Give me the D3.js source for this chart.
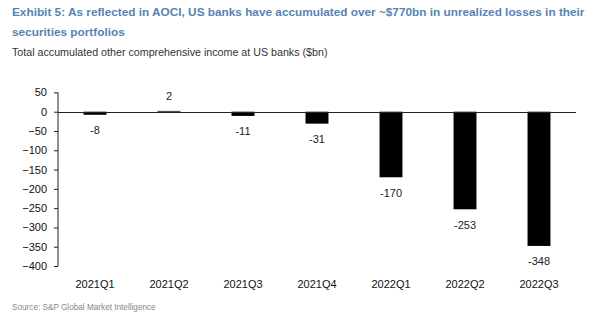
<!DOCTYPE html>
<html>
<head>
<meta charset="utf-8">
<script src="https://cdn.jsdelivr.net/npm/d3@7"></script>
<style>
  html, body { margin: 0; padding: 0; background: #fff; }
  svg { display: block; font-family: "Liberation Sans", Arial, sans-serif; }
</style>
</head>
<body>
<svg id="chart" width="600" height="321"></svg>
<script>
const categories = ["2021Q1", "2021Q2", "2021Q3", "2021Q4", "2022Q1", "2022Q2", "2022Q3"];
const values = [-8, 2, -11, -31, -170, -253, -348];
const yTicks = [50, 0, -50, -100, -150, -200, -250, -300, -350, -400];

const titleLines = [
  "Exhibit 5: As reflected in AOCI, US banks have accumulated over ~$770bn in unrealized losses in their",
  "securities portfolios"
];
const subtitle = "Total accumulated other comprehensive income at US banks ($bn)";
const source = "Source: S&P Global Market Intelligence";

const svg = d3.select("#chart");

// Titles
svg.selectAll("text.title").data(titleLines).join("text")
  .attr("class", "title")
  .attr("x", 12)
  .attr("y", (d, i) => 16 + i * 19.5)
  .attr("fill", "#5683b3")
  .attr("font-weight", "bold")
  .attr("font-size", 11.8)
  .text(d => d);

svg.append("text")
  .attr("x", 12).attr("y", 56)
  .attr("fill", "#333")
  .attr("font-size", 10.7)
  .text(subtitle);

svg.append("text")
  .attr("x", 12).attr("y", 310)
  .attr("fill", "#888")
  .attr("font-size", 8.2)
  .text(source);

// Scales
const x = d3.scaleBand().domain(categories).range([58, 576]).paddingInner(0.69).paddingOuter(0.345);
const y = d3.scaleLinear().domain([-400, 50]).range([266, 92.4]);

// Y axis
const yAxis = d3.axisLeft(y).tickValues(yTicks).tickSize(4).tickPadding(7).tickFormat(d3.format("d"));
const gy = svg.append("g").attr("transform", "translate(58,0)").call(yAxis);
gy.select(".domain").attr("stroke", "#222").attr("d", `M-0.5,${y(50)}V${y(-400)}`).attr("transform", "translate(0.5,0)");
gy.selectAll(".tick line").attr("stroke", "#222");
gy.selectAll(".tick text").attr("fill", "#111").attr("font-size", 11)
  .attr("font-family", "'Liberation Sans', Arial, sans-serif");

// Bars
svg.selectAll("rect.bar").data(values).join("rect")
  .attr("class", "bar")
  .attr("x", (d, i) => x(categories[i]))
  .attr("width", x.bandwidth())
  .attr("y", d => Math.min(y(d), y(0)))
  .attr("height", d => Math.abs(y(d) - y(0)))
  .attr("fill", "#000");

// Zero line
svg.append("line")
  .attr("x1", 58).attr("x2", 576)
  .attr("y1", Math.round(y(0)) + 0.5).attr("y2", Math.round(y(0)) + 0.5)
  .attr("stroke", "#222").attr("stroke-width", 1);

// Value labels
svg.selectAll("text.val").data(values).join("text")
  .attr("class", "val")
  .attr("x", (d, i) => x(categories[i]) + x.bandwidth() / 2)
  .attr("y", d => d < 0 ? y(d) + 19.5 : y(d) - 11)
  .attr("text-anchor", "middle")
  .attr("fill", "#222")
  .attr("font-size", 11)
  .text(d => d);

// Category labels
svg.selectAll("text.cat").data(categories).join("text")
  .attr("class", "cat")
  .attr("x", d => x(d) + x.bandwidth() / 2)
  .attr("y", 288)
  .attr("text-anchor", "middle")
  .attr("fill", "#111")
  .attr("font-size", 11)
  .text(d => d);
</script>
</body>
</html>
